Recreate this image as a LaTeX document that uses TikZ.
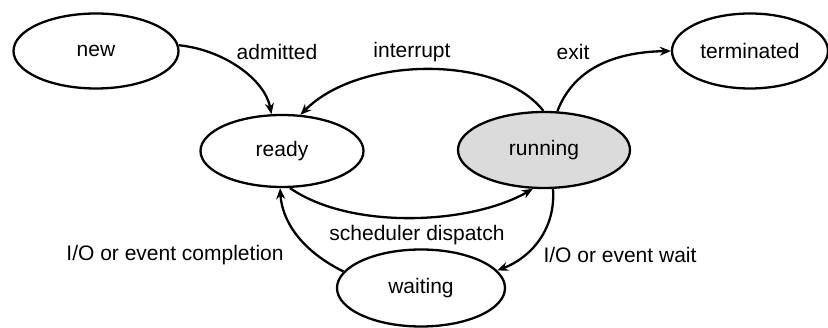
\documentclass[tikz,border=0pt]{standalone}
\usepackage{fontspec}
\setmainfont{Liberation Sans}
\usetikzlibrary{shapes.geometric,arrows.meta}
\begin{document}
\begin{tikzpicture}[x=1pt,y=-1pt,
  state/.style={ellipse,draw,line width=2.3pt,inner sep=0pt,font=\fontsize{21}{24}\selectfont},
  lbl/.style={font=\fontsize{21}{24}\selectfont,inner sep=0pt},
  conn/.style={line width=2.3pt,-{Stealth[length=11pt,width=9pt]}}]
\useasboundingbox (0,0) rectangle (828,328);
\node[state,minimum width=165pt,minimum height=75pt] (new) at (96,51) {new};
\node[state,minimum width=163pt,minimum height=72pt] (ready) at (282,151) {ready};
\node[state,minimum width=172pt,minimum height=76pt,fill=black!14] (running) at (544,150) {running};
\node[state,minimum width=156pt,minimum height=75pt] (terminated) at (750,51) {terminated};
\node[state,minimum width=168pt,minimum height=77pt] (waiting) at (421,288) {waiting};

\node[lbl] (ladm) at (277,52) {admitted};
\node[lbl] (lint) at (412,52) {interrupt};
\node[lbl] (lexit) at (573,52) {exit};
\node[lbl] (lsch) at (417,235) {scheduler dispatch};
\node[lbl] (lcomp) at (175,255) {I/O or event completion};
\node[lbl] (lwait) at (620,255) {I/O or event wait};

\draw[conn] (new.4) .. controls (225,50) and (265,80) .. (ready.106);
\draw[conn] (running.91) .. controls (500,55) and (360,55) .. (ready.63);
\draw[conn] (running.71) .. controls (575,65) and (620,52) .. (terminated.west);
\draw[conn] (ready.-78) .. controls (350,230) and (470,225) .. (running.-106);
\draw[conn] (running.-77) .. controls (556,230) and (530,258) .. (waiting.13);
\draw[conn] (waiting.168) .. controls (300,250) and (282,220) .. (ready.-93);
\end{tikzpicture}
\end{document}
